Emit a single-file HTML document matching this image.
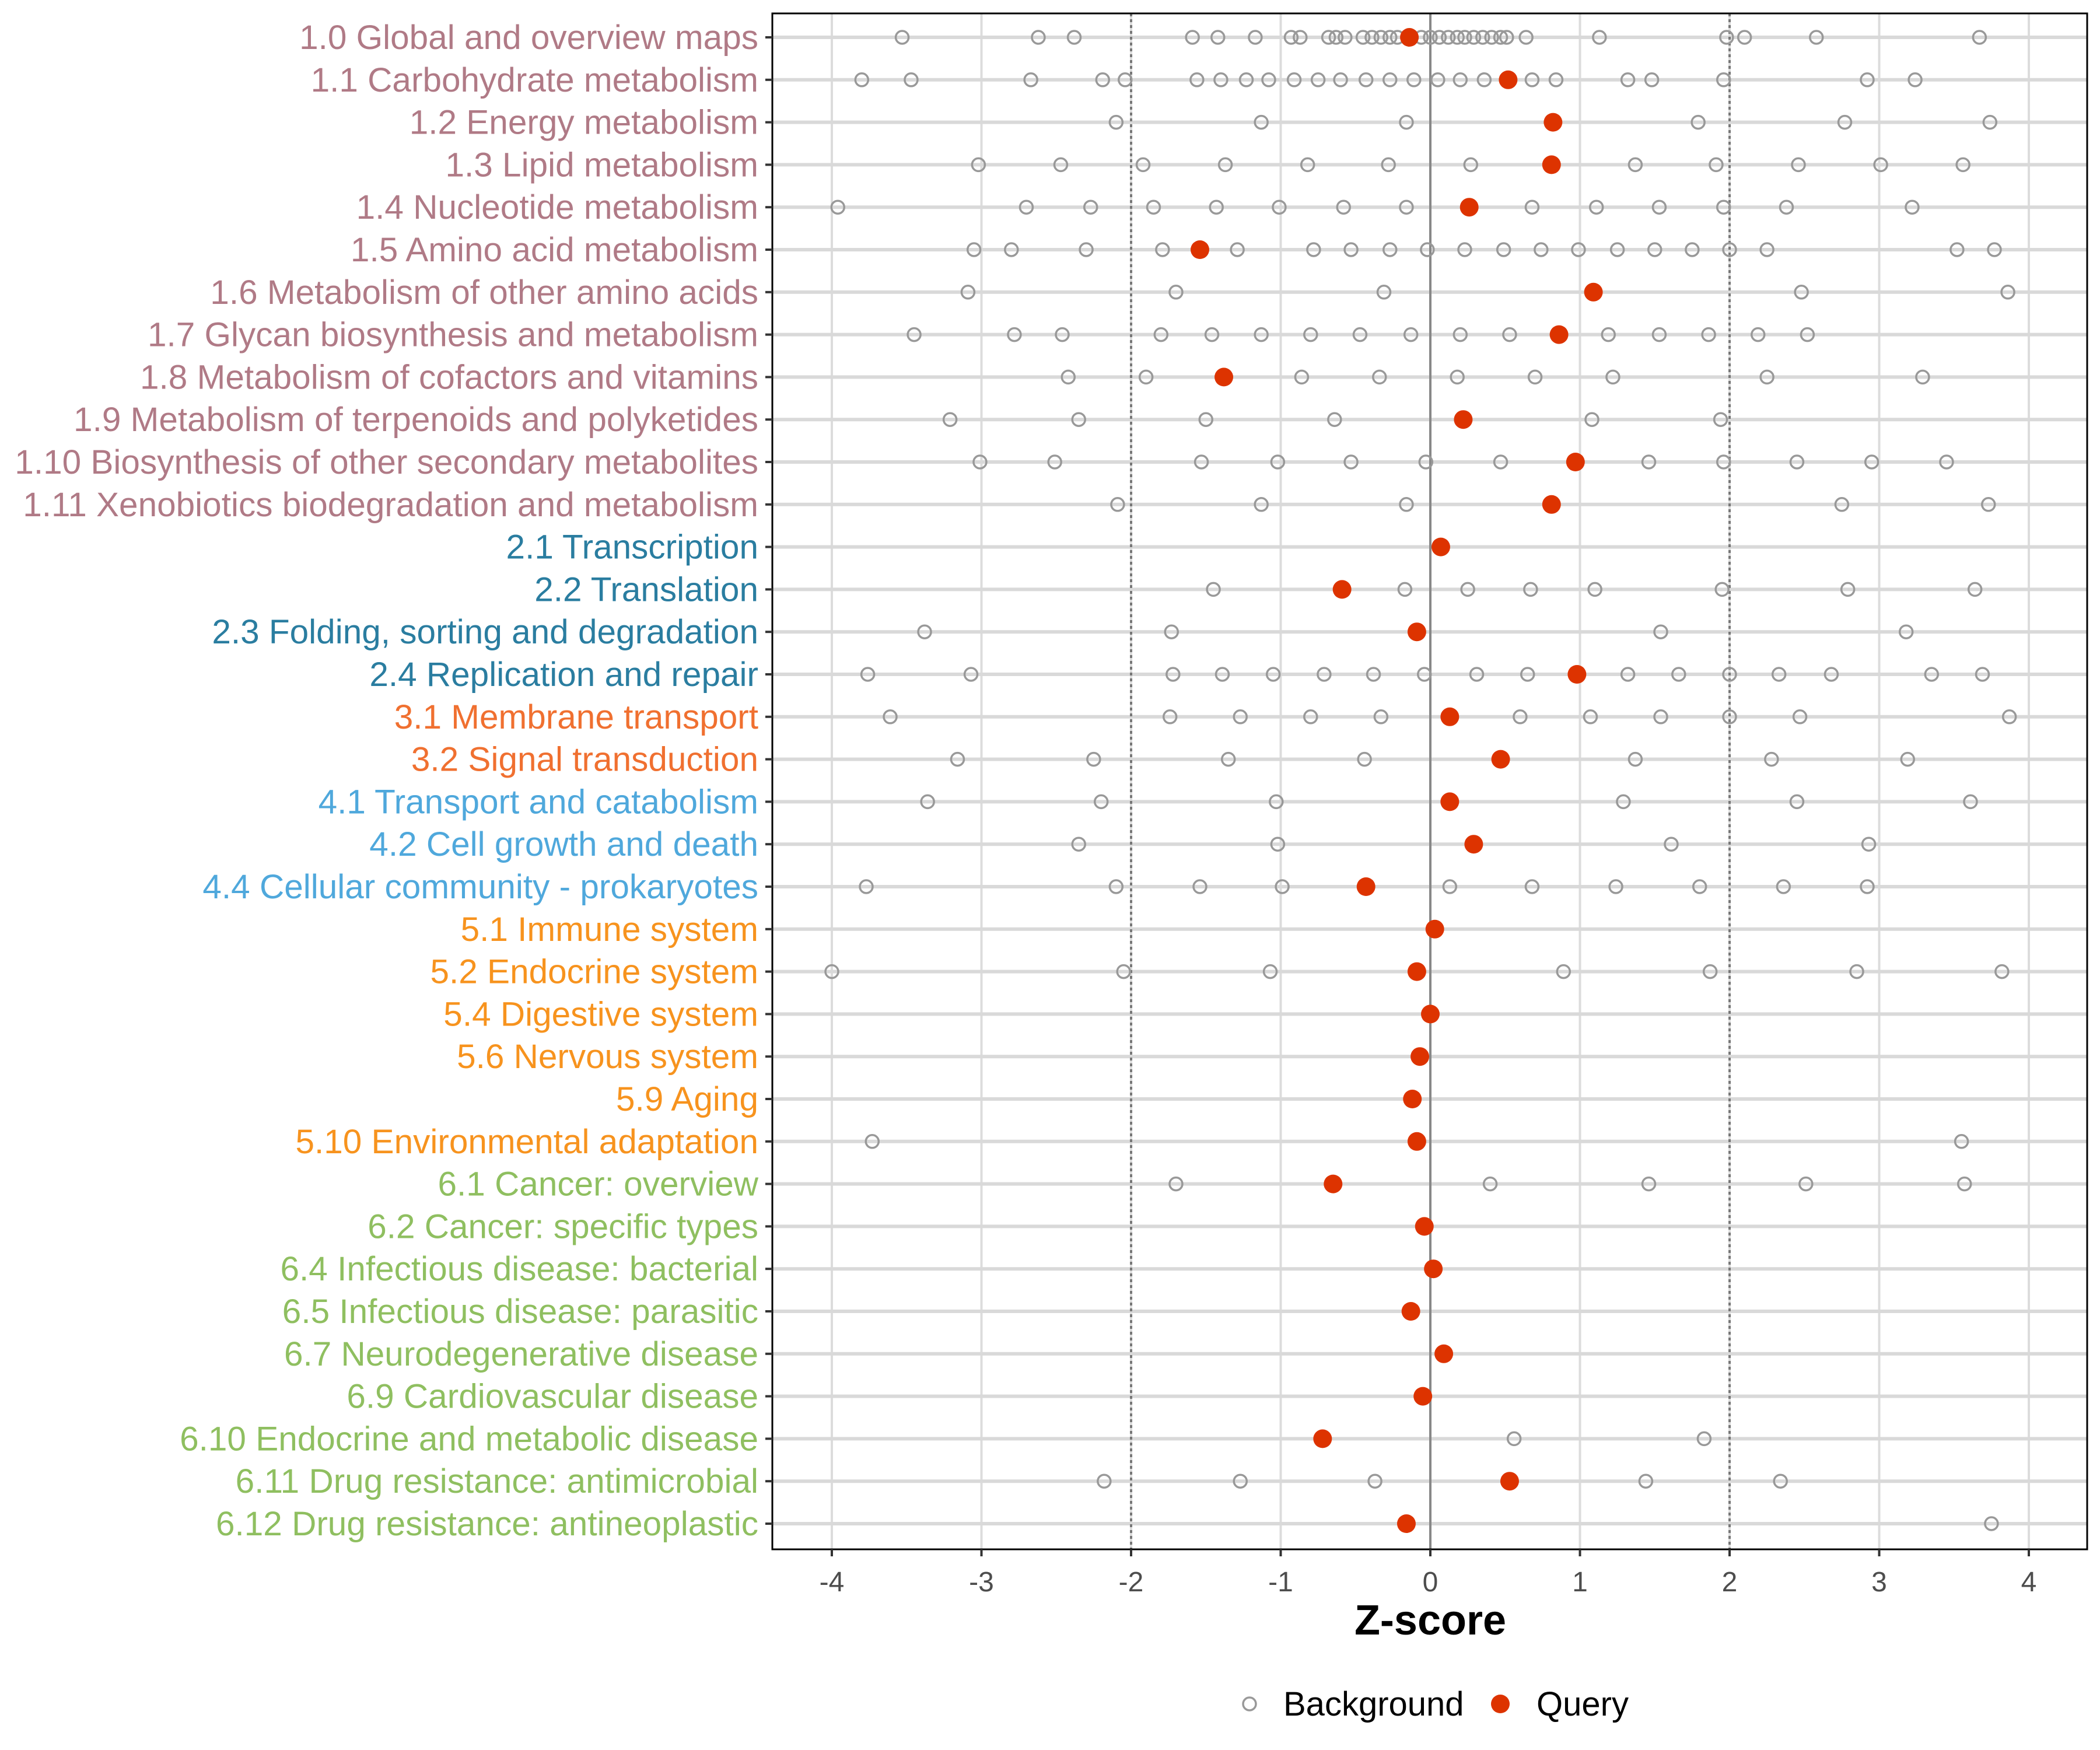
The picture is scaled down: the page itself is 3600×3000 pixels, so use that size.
<!DOCTYPE html>
<html><head><meta charset="utf-8"><style>
html,body{margin:0;padding:0;background:#fff;}
svg{display:block;font-family:"Liberation Sans",Arial,sans-serif;}
</style></head><body>
<svg id="chart" width="3600" height="3000" viewBox="0 0 3600 3000" xmlns="http://www.w3.org/2000/svg">
<rect x="0" y="0" width="3600" height="3000" fill="#fff"/>
<g id="grid"></g><g id="marks"></g><g id="axes"></g>
<text x="2452" y="2802" font-size="72" font-weight="bold" text-anchor="middle" fill="#000">Z-score</text>
<g>
<circle cx="2142" cy="2921" r="11" fill="none" stroke="#999" stroke-width="3.5"/>
<text x="2200" y="2941" font-size="58" fill="#000">Background</text>
<circle cx="2572" cy="2921" r="16" fill="#dd3300"/>
<text x="2634" y="2941" font-size="58" fill="#000">Query</text>
</g>
</svg>
<script>
const categories=["1.0 Global and overview maps","1.1 Carbohydrate metabolism","1.2 Energy metabolism","1.3 Lipid metabolism","1.4 Nucleotide metabolism","1.5 Amino acid metabolism","1.6 Metabolism of other amino acids","1.7 Glycan biosynthesis and metabolism","1.8 Metabolism of cofactors and vitamins","1.9 Metabolism of terpenoids and polyketides","1.10 Biosynthesis of other secondary metabolites","1.11 Xenobiotics biodegradation and metabolism","2.1 Transcription","2.2 Translation","2.3 Folding, sorting and degradation","2.4 Replication and repair","3.1 Membrane transport","3.2 Signal transduction","4.1 Transport and catabolism","4.2 Cell growth and death","4.4 Cellular community - prokaryotes","5.1 Immune system","5.2 Endocrine system","5.4 Digestive system","5.6 Nervous system","5.9 Aging","5.10 Environmental adaptation","6.1 Cancer: overview","6.2 Cancer: specific types","6.4 Infectious disease: bacterial","6.5 Infectious disease: parasitic","6.7 Neurodegenerative disease","6.9 Cardiovascular disease","6.10 Endocrine and metabolic disease","6.11 Drug resistance: antimicrobial","6.12 Drug resistance: antineoplastic"];
const queryValues=[-0.14,0.52,0.82,0.81,0.26,-1.54,1.09,0.86,-1.38,0.22,0.97,0.81,0.07,-0.59,-0.09,0.98,0.13,0.47,0.13,0.29,-0.43,0.03,-0.09,0.0,-0.07,-0.12,-0.09,-0.65,-0.04,0.02,-0.13,0.09,-0.05,-0.72,0.53,-0.16];
const backgroundValues=[
[-3.53,-2.62,-2.38,-1.59,-1.42,-1.17,-0.93,-0.87,-0.68,-0.63,-0.57,-0.45,-0.39,-0.33,-0.27,-0.22,-0.06,0,0.06,0.12,0.18,0.23,0.29,0.35,0.41,0.47,0.51,0.64,1.13,1.98,2.10,2.58,3.67],
[-3.80,-3.47,-2.67,-2.19,-2.04,-1.56,-1.40,-1.23,-1.08,-0.91,-0.75,-0.60,-0.43,-0.27,-0.11,0.05,0.20,0.36,0.68,0.84,1.32,1.48,1.96,2.92,3.24],
[-2.10,-1.13,-0.16,1.79,2.77,3.74],
[-3.02,-2.47,-1.92,-1.37,-0.82,-0.28,0.27,1.37,1.91,2.46,3.01,3.56],
[-3.96,-2.70,-2.27,-1.85,-1.43,-1.01,-0.58,-0.16,0.68,1.11,1.53,1.96,2.38,3.22],
[-3.05,-2.80,-2.30,-1.79,-1.29,-0.78,-0.53,-0.27,-0.02,0.23,0.49,0.74,0.99,1.25,1.50,1.75,2.00,2.25,3.52,3.77],
[-3.09,-1.70,-0.31,2.48,3.86],
[-3.45,-2.78,-2.46,-1.80,-1.46,-1.13,-0.80,-0.47,-0.13,0.20,0.53,1.19,1.53,1.86,2.19,2.52],
[-2.42,-1.90,-0.86,-0.34,0.18,0.70,1.22,2.25,3.29],
[-3.21,-2.35,-1.50,-0.64,1.08,1.94],
[-3.01,-2.51,-1.53,-1.02,-0.53,-0.03,0.47,1.46,1.96,2.45,2.95,3.45],
[-2.09,-1.13,-0.16,2.75,3.73],
[],
[-1.45,-0.17,0.25,0.67,1.10,1.95,2.79,3.64],
[-3.38,-1.73,1.54,3.18],
[-3.76,-3.07,-1.72,-1.39,-1.05,-0.71,-0.38,-0.04,0.31,0.65,1.32,1.66,2.00,2.33,2.68,3.35,3.69],
[-3.61,-1.74,-1.27,-0.80,-0.33,0.60,1.07,1.54,2.00,2.47,3.87],
[-3.16,-2.25,-1.35,-0.44,1.37,2.28,3.19],
[-3.36,-2.20,-1.03,1.29,2.45,3.61],
[-2.35,-1.02,1.61,2.93],
[-3.77,-2.10,-1.54,-0.99,0.13,0.68,1.24,1.80,2.36,2.92],
[],
[-4.00,-2.05,-1.07,0.89,1.87,2.85,3.82],
[],[],[],
[-3.73,3.55],
[-1.70,0.40,1.46,2.51,3.57],
[],[],[],[],[],
[0.56,1.83],
[-2.18,-1.27,-0.37,1.44,2.34],
[3.75]
];
const xTicks=[-4,-3,-2,-1,0,1,2,3,4];
const NS="http://www.w3.org/2000/svg";
const PL=1324,PR=3578,PT=23,PB=2656,X0=2452,UNIT=256.5,Y0=64,DY=72.8;
function xs(v){return X0+v*UNIT;}
function ys(i){return Y0+i*DY;}
function colorFor(c){const g=c.split(".")[0];return {"1":"#b07a86","2":"#2a7da0","3":"#f07030","4":"#4fa8dc","5":"#f7931e","6":"#8fbf60"}[g];}
function mk(tag,attrs,parent){const e=document.createElementNS(NS,tag);for(const k in attrs)e.setAttribute(k,attrs[k]);parent.appendChild(e);return e;}
const grid=document.getElementById("grid"),marks=document.getElementById("marks"),axes=document.getElementById("axes");
xTicks.forEach(t=>{
 const l=mk("line",{x1:xs(t),x2:xs(t),y1:PT,y2:PB,stroke:"#dcdcdc","stroke-width":4},grid);
 
 
});
categories.forEach((c,i)=>{
 const l=mk("line",{x1:PL,x2:PR,y1:ys(i),y2:ys(i),stroke:"#d9d9d9","stroke-width":6},grid);
 
 
});
[-2,2].forEach(t=>{
 const l=mk("line",{x1:xs(t),x2:xs(t),y1:PT,y2:PB,stroke:"#777","stroke-width":4,"stroke-dasharray":"5 5"},grid);
 
 
});
const zl=mk("line",{x1:xs(0),x2:xs(0),y1:PT,y2:PB,stroke:"#888","stroke-width":4},grid);


backgroundValues.forEach((arr,i)=>{arr.forEach(v=>{
 const c=mk("circle",{cx:xs(v),cy:ys(i),r:11,fill:"none",stroke:"#999","stroke-width":3.5},marks);
 
 
});});
queryValues.forEach((v,i)=>{
 const c=mk("circle",{cx:xs(v),cy:ys(i),r:16,fill:"#dd3300"},marks);
 
 
});
const border=mk("rect",{x:PL,y:PT,width:PR-PL,height:PB-PT,fill:"none",stroke:"#000","stroke-width":3},axes);


categories.forEach((c,i)=>{
 const tk=mk("line",{x1:PL-12,x2:PL,y1:ys(i),y2:ys(i),stroke:"#333","stroke-width":4},axes);
 
 
 const t=mk("text",{x:1300,y:ys(i)+20,"font-size":58.5,"text-anchor":"end",fill:colorFor(c)},axes);
 t.textContent=c;
 
 
});
xTicks.forEach(v=>{
 const tk=mk("line",{x1:xs(v),x2:xs(v),y1:PB,y2:PB+12,stroke:"#333","stroke-width":4},axes);
 
 
 const t=mk("text",{x:xs(v),y:PB+72,"font-size":48,"text-anchor":"middle",fill:"#4d4d4d"},axes);
 t.textContent=String(v);
 
 
});
</script>
</body></html>
